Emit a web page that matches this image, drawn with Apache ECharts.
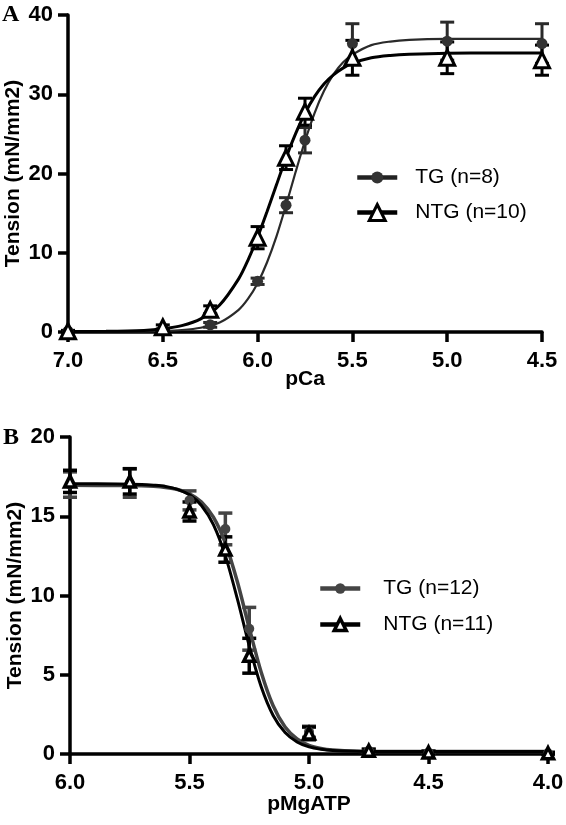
<!DOCTYPE html>
<html>
<head>
<meta charset="utf-8">
<script src="https://cdn.jsdelivr.net/npm/echarts@6/dist/echarts.min.js"></script>
<style>
html,body{margin:0;padding:0;background:#fff;}
#chart{width:566px;height:825px;}
</style>
</head>
<body>
<div id="chart"></div>
<script>
// ---------- Panel A: pCa ----------
const pCa       = [7.0, 6.5, 6.25, 6.0, 5.85, 5.75, 5.5, 5.0, 4.5];
const tgA       = [0.1, 0.2, 0.9, 6.4, 16.0, 24.2, 36.4, 36.7, 36.4];
const tgAErr    = [0.1, 0.2, 0.3, 0.4, 0.95, 1.6, 2.5, 2.4, 2.5];
const ntgA      = [0.1, 0.6, 2.8, 11.9, 22.0, 27.8, 34.6, 34.6, 34.3];
const ntgAErr   = [0.1, 0.3, 0.5, 1.4, 1.5, 1.7, 2.2, 2.0, 1.9];
const pCaFit    = [7.0, 6.8, 6.6, 6.5, 6.4, 6.3, 6.2, 6.1, 6.05, 6.0, 5.95, 5.9, 5.85, 5.8, 5.75, 5.7, 5.65, 5.6, 5.55, 5.5, 5.4, 5.3, 5.2, 5.0, 4.75, 4.5];
const tgFitA    = [0.05, 0.06, 0.08, 0.13, 0.25, 0.54, 1.2, 2.8, 4.2, 6.15, 8.8, 12.1, 16.0, 20.15, 24.1, 27.6, 30.4, 32.5, 34.0, 35.0, 36.2, 36.65, 36.85, 36.98, 37.0, 37.0];
const ntgFitA   = [0.06, 0.08, 0.2, 0.4, 0.8, 1.65, 3.4, 6.7, 9.1, 11.95, 15.2, 18.6, 22.0, 25.0, 27.6, 29.7, 31.3, 32.45, 33.3, 33.9, 34.6, 34.9, 35.05, 35.18, 35.2, 35.2];
const xTicksA   = { min: 4.5, max: 7.0, interval: 0.5 };
const yTicksA   = { min: 0, max: 40, interval: 10 };

// ---------- Panel B: pMgATP ----------
const pMg       = [6.0, 5.75, 5.5, 5.35, 5.25, 5.0, 4.75, 4.5, 4.0];
const tgB       = [17.0, 17.1, 16.0, 14.2, 7.9, 1.4, 0.2, 0.1, 0.05];
const tgBErr    = [0.8, 0.9, 0.6, 1.0, 1.35, 0.35, 0.1, 0.08, 0.05];
const ntgB      = [17.2, 17.2, 15.3, 12.9, 6.2, 1.3, 0.2, 0.1, 0.05];
const ntgBErr   = [0.7, 0.8, 0.6, 0.8, 1.1, 0.4, 0.1, 0.08, 0.05];
const pMgFit    = [6.0, 5.8, 5.7, 5.65, 5.6, 5.55, 5.5, 5.45, 5.4, 5.35, 5.3, 5.25, 5.2, 5.15, 5.1, 5.05, 5.0, 4.95, 4.9, 4.8, 4.7, 4.5, 4.0];
const tgFitB    = [16.95, 16.94, 16.92, 16.89, 16.82, 16.69, 16.42, 15.9, 14.94, 13.31, 10.88, 7.95, 5.16, 3.04, 1.7, 0.95, 0.55, 0.35, 0.25, 0.17, 0.155, 0.15, 0.15];
const ntgFitB   = [17.05, 17.04, 17.01, 16.96, 16.88, 16.7, 16.35, 15.68, 14.47, 12.5, 9.8, 6.82, 4.24, 2.43, 1.35, 0.76, 0.45, 0.3, 0.22, 0.17, 0.155, 0.15, 0.15];
const xTicksB   = { min: 4.0, max: 6.0, interval: 0.5 };
const yTicksB   = { min: 0, max: 20, interval: 5 };

const names = ['TG (n=8)', 'NTG (n=10)', 'TG (n=12)', 'NTG (n=11)'];

const FONT = 'Liberation Sans, Arial, Helvetica, sans-serif';
const zip = (xs, ys) => xs.map((x, i) => [x, ys[i]]);

function errorBars(xs, ys, es, color, xi, lw, capW, z) {
  return {
    type: 'custom', xAxisIndex: xi, yAxisIndex: xi, z: z, silent: true,
    data: xs.map((x, i) => [x, ys[i] - es[i], ys[i] + es[i]]),
    encode: { x: 0, y: [1, 2] },
    renderItem: function (params, api) {
      const x = api.value(0);
      const lo = api.coord([x, api.value(1)]);
      const hi = api.coord([x, api.value(2)]);
      const h = capW / 2;
      const style = { stroke: color, lineWidth: lw, fill: null };
      return { type: 'group', children: [
        { type: 'line', shape: { x1: lo[0], y1: lo[1], x2: hi[0], y2: hi[1] }, style: style },
        { type: 'line', shape: { x1: hi[0] - h, y1: hi[1], x2: hi[0] + h, y2: hi[1] }, style: style },
        { type: 'line', shape: { x1: lo[0] - h, y1: lo[1], x2: lo[0] + h, y2: lo[1] }, style: style }
      ]};
    }
  };
}

function xAxis(gi, t, name, gap) {
  return {
    type: 'value', gridIndex: gi, inverse: true, min: t.min, max: t.max, interval: t.interval,
    name: name, nameLocation: 'middle', nameGap: gap, nameMoveOverlap: false,
    nameTextStyle: { fontFamily: FONT, fontWeight: 'bold', fontSize: 21, color: '#000' },
    axisLine: { show: true, onZero: false, lineStyle: { color: '#000', width: 3.5 } },
    axisTick: { show: true, length: 10, lineStyle: { color: '#000', width: 3.5 } },
    axisLabel: { margin: 18, fontFamily: FONT, fontWeight: 'bold', fontSize: 22, color: '#000',
                 formatter: v => v.toFixed(1) },
    splitLine: { show: false }
  };
}
function yAxis(gi, t) {
  return {
    type: 'value', gridIndex: gi, min: t.min, max: t.max, interval: t.interval,
    name: 'Tension (mN/mm2)', nameLocation: 'middle', nameGap: 44, nameRotate: 90, nameMoveOverlap: false,
    nameTextStyle: { fontFamily: FONT, fontWeight: 'bold', fontSize: 21, color: '#000' },
    axisLine: { show: true, onZero: false, lineStyle: { color: '#000', width: 3.5 } },
    axisTick: { show: true, length: 10, lineStyle: { color: '#000', width: 3.5 } },
    axisLabel: { margin: 15, fontFamily: FONT, fontWeight: 'bold', fontSize: 22, color: '#000' },
    splitLine: { show: false }
  };
}

function legend(name, left, top, h, itemStyle, lineStyle, padL) {
  return {
    left: left, top: top, padding: 0, itemWidth: 40, itemHeight: h, selectedMode: false,
    data: [{ name: name, itemStyle: itemStyle, lineStyle: lineStyle }],
    textStyle: { fontFamily: FONT, fontSize: 21, color: '#000', padding: [0, 0, 0, padL] }
  };
}

const option = {
  animation: false,
  backgroundColor: '#fff',
  grid: [
    { left: 68, top: 15, width: 474, height: 317, outerBoundsMode: 'none', containLabel: false },
    { left: 70, top: 437, width: 478, height: 317, outerBoundsMode: 'none', containLabel: false }
  ],
  xAxis: [ xAxis(0, xTicksA, 'pCa', 37), xAxis(1, xTicksB, 'pMgATP', 40) ],
  yAxis: [ yAxis(0, yTicksA), yAxis(1, yTicksB) ],
  legend: [
    legend(names[0], 355, 167, 15, { color: '#333', borderWidth: 0 }, { color: '#222', width: 4.5 }, 13),
    legend(names[1], 355, 202, 20, { color: '#fff', borderColor: '#000', borderWidth: 3 }, { color: '#000', width: 4.5 }, 13),
    legend(names[2], 318, 578, 13, { color: '#444', borderWidth: 0 }, { color: '#444', width: 4.5 }, 18),
    legend(names[3], 318, 614, 15, { color: '#fff', borderColor: '#000', borderWidth: 3.5 }, { color: '#000', width: 4.5 }, 18)
  ],
  graphic: [
    { type: 'text', left: 2, top: 3, style: { text: 'A', fontFamily: 'Liberation Serif, Times New Roman, serif', fontWeight: 'bold', fontSize: 24, fill: '#000' } },
    { type: 'text', left: 3, top: 426, style: { text: 'B', fontFamily: 'Liberation Serif, Times New Roman, serif', fontWeight: 'bold', fontSize: 24, fill: '#000' } }
  ],
  series: [
    // Panel A
    errorBars(pCa, tgA, tgAErr, '#2a2a2a', 0, 3, 14, 3),
    errorBars(pCa, ntgA, ntgAErr, '#000', 0, 3, 14, 3),
    { name: names[0], type: 'line', xAxisIndex: 0, yAxisIndex: 0, data: zip(pCaFit, tgFitA), smooth: 0.3,
      symbol: 'circle', showSymbol: false, z: 4, lineStyle: { color: '#2a2a2a', width: 2.2 }, itemStyle: { color: '#333' } },
    { name: names[1], type: 'line', xAxisIndex: 0, yAxisIndex: 0, data: zip(pCaFit, ntgFitA), smooth: 0.3,
      symbol: 'triangle', showSymbol: false, z: 4, lineStyle: { color: '#000', width: 3 }, itemStyle: { color: '#000' } },
    { type: 'scatter', xAxisIndex: 0, yAxisIndex: 0, data: zip(pCa, tgA), symbol: 'circle', symbolSize: 11, z: 5,
      itemStyle: { color: '#333', opacity: 1 }, silent: true },
    { type: 'scatter', xAxisIndex: 0, yAxisIndex: 0, data: zip(pCa, ntgA), symbol: 'triangle', symbolSize: 15, z: 6,
      itemStyle: { color: '#fff', borderColor: '#000', borderWidth: 3, opacity: 1 }, silent: true },
    // Panel B
    errorBars(pMg, tgB, tgBErr, '#444', 1, 3.5, 14, 3),
    errorBars(pMg, ntgB, ntgBErr, '#000', 1, 3.5, 14, 3),
    { name: names[2], type: 'line', xAxisIndex: 1, yAxisIndex: 1, data: zip(pMgFit, tgFitB), smooth: 0.3,
      symbol: 'circle', showSymbol: false, z: 4, lineStyle: { color: '#444', width: 3.5 }, itemStyle: { color: '#444' } },
    { name: names[3], type: 'line', xAxisIndex: 1, yAxisIndex: 1, data: zip(pMgFit, ntgFitB), smooth: 0.3,
      symbol: 'triangle', showSymbol: false, z: 4, lineStyle: { color: '#000', width: 3 }, itemStyle: { color: '#000' } },
    { type: 'scatter', xAxisIndex: 1, yAxisIndex: 1, data: zip(pMg, tgB), symbol: 'circle', symbolSize: 10, z: 5,
      itemStyle: { color: '#444', opacity: 1 }, silent: true },
    { type: 'scatter', xAxisIndex: 1, yAxisIndex: 1, data: zip(pMg, ntgB), symbol: 'triangle', symbolSize: 11, z: 6,
      itemStyle: { color: '#fff', borderColor: '#000', borderWidth: 3.5, opacity: 1 }, silent: true }
  ]
};

const chart = echarts.init(document.getElementById('chart'), null, { renderer: 'canvas' });
chart.setOption(option);
</script>
</body>
</html>
